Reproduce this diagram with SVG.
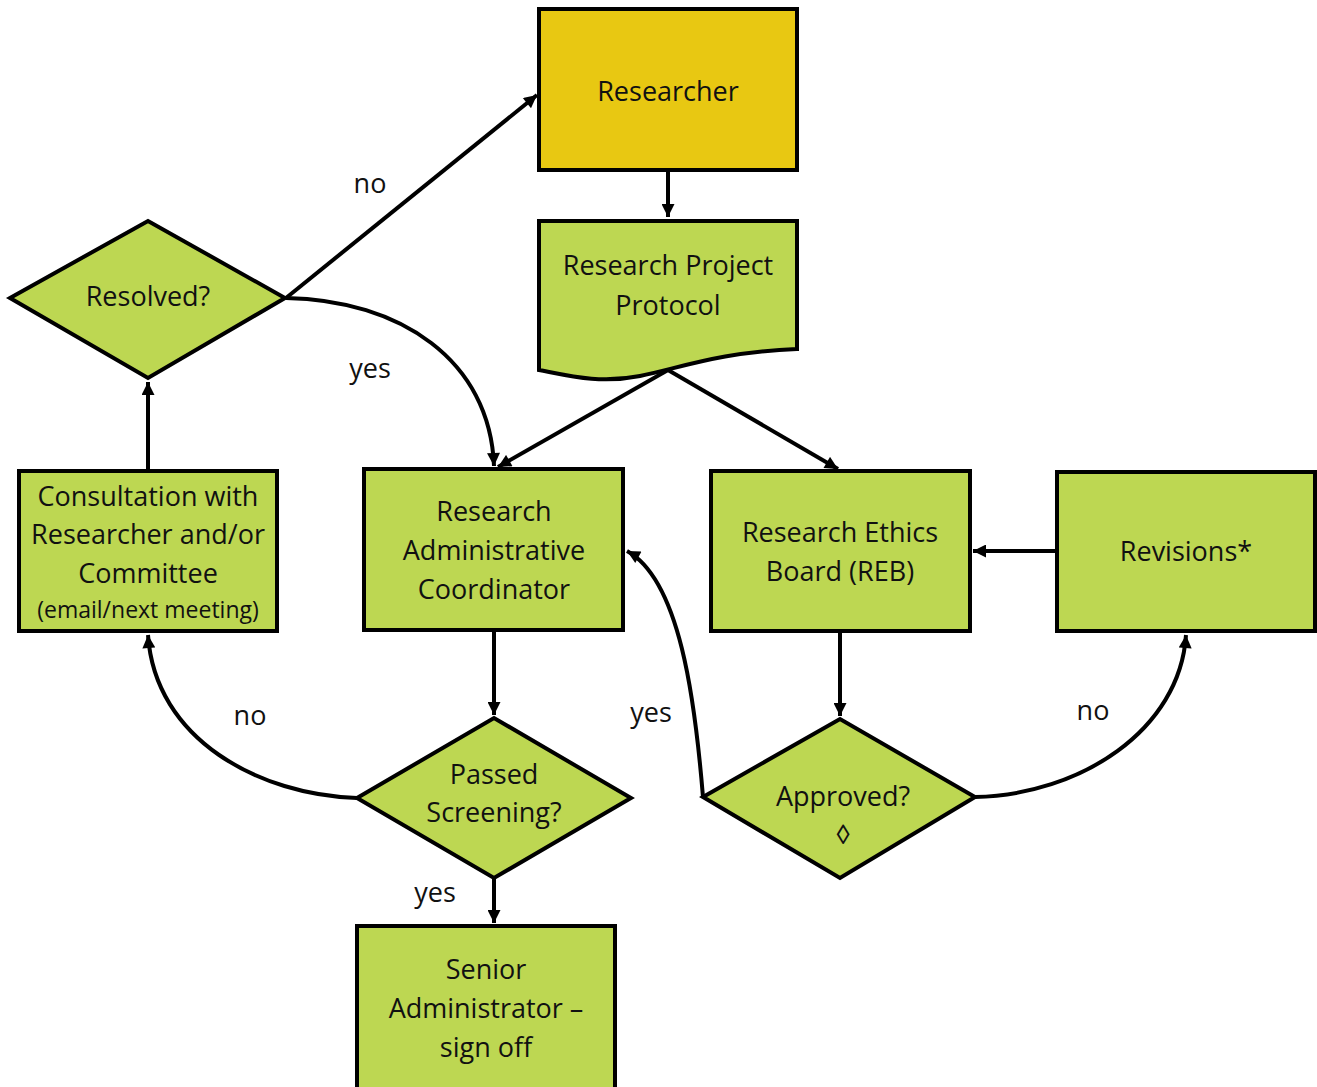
<svg xmlns="http://www.w3.org/2000/svg" width="1317" height="1087" viewBox="0 0 1317 1087">
<defs>
<marker id="ah" markerWidth="14" markerHeight="13" refX="10" refY="5" orient="auto" markerUnits="userSpaceOnUse" viewBox="0 0 10 10">
<path d="M0,0 L10,5 L0,10 z" fill="#000"/>
</marker>
<style>
.n{fill:#BDD752;stroke:#000;stroke-width:4}
.g{fill:#E8C812;stroke:#000;stroke-width:4}
.t{font-family:"Open Sans","Noto Sans",sans-serif;font-size:27px;fill:#111;text-anchor:middle}
.s{font-size:23px}
.c{fill:none;stroke:#000;stroke-width:4}
.a{marker-end:url(#ah)}
</style>
</defs>
<rect width="1317" height="1087" fill="#fff"/>
<g id="connectors">
<path class="c a" d="M668,170 L668,217"/>
<path class="c a" d="M148,471 L148,382"/>
<path class="c a" d="M286,298 L537,95"/>
<path class="c a" d="M286,298 C400,300 490,360 494,466"/>
<path class="c a" d="M668,370 L498,467"/>
<path class="c a" d="M668,370 L838,469"/>
<path class="c a" d="M494,630 L494,715"/>
<path class="c a" d="M357,798 C260,795 155,740 148,635"/>
<path class="c a" d="M494,878 L494,923"/>
<path class="c a" d="M840,631 L840,716"/>
<path class="c a" d="M703,797 C695,700 680,580 627,551"/>
<path class="c a" d="M975,797 C1080,795 1180,730 1186,635"/>
<path class="c a" d="M1057,551 L973,551"/>
<text class="t" x="370" y="193">no</text>
<text class="t" x="370" y="378">yes</text>
<text class="t" x="250" y="725">no</text>
<text class="t" x="435" y="902">yes</text>
<text class="t" x="651" y="722">yes</text>
<text class="t" x="1093" y="720">no</text>
</g>
<g id="researcher"><rect class="g" x="539" y="9" width="258" height="161"/><text class="t" x="668" y="101">Researcher</text></g>
<g id="protocol"><path class="n" d="M539,221 L797,221 L797,349 C720,352 680,368 640,376 C600,384 570,376 539,370 Z"/><text class="t" x="668" y="275">Research Project</text><text class="t" x="668" y="315">Protocol</text></g>
<g id="resolved"><path class="n" d="M10,298 L148,221 L285,298 L148,378 Z"/><text class="t" x="148" y="306">Resolved?</text></g>
<g id="consultation"><rect class="n" x="19" y="471" width="258" height="160"/><text class="t" x="148" y="506">Consultation with</text><text class="t" x="148" y="544">Researcher and/or</text><text class="t" x="148" y="583">Committee</text><text class="t s" x="148" y="618">(email/next meeting)</text></g>
<g id="rac"><rect class="n" x="364" y="469" width="259" height="161"/><text class="t" x="494" y="521">Research</text><text class="t" x="494" y="560">Administrative</text><text class="t" x="494" y="599">Coordinator</text></g>
<g id="reb"><rect class="n" x="711" y="471" width="259" height="160"/><text class="t" x="840" y="542">Research Ethics</text><text class="t" x="840" y="581">Board (REB)</text></g>
<g id="revisions"><rect class="n" x="1057" y="472" width="258" height="159"/><text class="t" x="1186" y="561">Revisions*</text></g>
<g id="passed"><path class="n" d="M357,798 L494,718 L631,798 L494,878 Z"/><text class="t" x="494" y="784">Passed</text><text class="t" x="494" y="822">Screening?</text></g>
<g id="approved"><path class="n" d="M703,797 L840,719 L975,797 L840,878 Z"/><text class="t" x="843" y="806">Approved?</text><text class="t" x="843" y="844">◊</text></g>
<g id="senior"><rect class="n" x="357" y="926" width="258" height="163"/><text class="t" x="486" y="979">Senior</text><text class="t" x="486" y="1018">Administrator –</text><text class="t" x="486" y="1057">sign off</text></g>
</svg>
